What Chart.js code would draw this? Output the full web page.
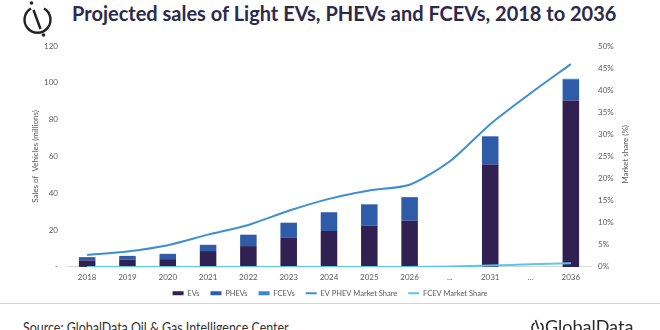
<!DOCTYPE html>
<html>
<head>
<meta charset="utf-8">
<script src="https://cdn.jsdelivr.net/npm/chart.js@4.4.1/dist/chart.umd.min.js"></script>
<style>
  html, body { margin: 0; padding: 0; background: #fff; }
  #wrap { position: relative; width: 660px; height: 330px; overflow: hidden; font-family: Lato, sans-serif; }
  #chartBox { position: absolute; left: 0; top: 0; width: 660px; height: 317px; }
  #title { position: absolute; left: 72px; top: 1px; font-weight: bold; font-size: 20px; line-height: 24px; color: #2c2a4c; white-space: nowrap; }
  #logo { position: absolute; left: 22px; top: 0px; }
  #rule { position: absolute; left: 0; top: 303px; width: 660px; height: 0; border-top: 1.5px solid #d4d4d4; }
  #source { position: absolute; left: 23px; top: 317px; font-size: 15px; line-height: 20px; color: #333; white-space: nowrap; transform: scaleX(0.83); transform-origin: 0 0; }
  #brand { position: absolute; left: 531px; top: 315px; font-size: 18px; line-height: 22px; color: #2a2a2a; white-space: nowrap; }
  #brand svg { vertical-align: -2px; margin-right: 1px; }
</style>
</head>
<body>
<div id="wrap">
  <svg id="logo" width="32" height="40" viewBox="0 0 32 40">
    <path d="M9 8.5 A13 13 0 1 0 22 8.5" fill="none" stroke="#222" stroke-width="2.4"/>
    <path d="M11.5 10 L18.5 29" stroke="#222" stroke-width="2.4"/>
    <circle cx="9.5" cy="3" r="1.8" fill="#222"/>
    <circle cx="21.5" cy="35" r="1.8" fill="#222"/>
  </svg>
  <div id="title">Projected sales of Light EVs, PHEVs and FCEVs, 2018 to 2036</div>
  <div id="chartBox"><canvas id="salesChart"></canvas></div>
  <div id="rule"></div>
  <div id="source">Source: GlobalData Oil &amp; Gas Intelligence Center</div>
  <div id="brand"><svg width="13" height="16" viewBox="0 0 13 16"><path d="M3.5 4 A5.5 5.5 0 1 0 9.5 4" fill="none" stroke="#2a2a2a" stroke-width="1.6"/><path d="M4.5 1 L7.5 10" stroke="#2a2a2a" stroke-width="1.6"/></svg>GlobalData</div>
</div>
<script>
// categories and series (sales in millions, shares in %)
const years = ['2018', '2019', '2020', '2021', '2022', '2023', '2024', '2025', '2026', '...', '2031', '...', '2036'];
const evSales = [3.5, 4.0, 4.2, 8.6, 11.3, 16.0, 19.5, 22.4, 25.1, null, 55.6, null, 90.4];
const phevSales = [1.8, 2.0, 2.9, 3.4, 6.2, 8.0, 10.2, 11.6, 12.8, null, 15.3, null, 11.5];
const fcevSales = [0, 0, 0, 0, 0, 0, 0, 0, 0, null, 0.1, null, 0.3];
const evPhevShare = [2.7, 3.5, 4.9, 7.3, 9.5, 12.7, 15.4, 17.3, 18.6, 23.9, 32.3, 39.3, 45.9];
const fcevShare = [0, 0, 0, 0, 0, 0, 0, 0, 0, 0.1, 0.3, 0.6, 0.8];

const tickGrey = '#595959';
const fontFamily = 'Lato, sans-serif';

// rotated title on the right axis (reads bottom to top like the left one)
const rightAxisTitle = {
    id: 'rightAxisTitle',
    afterDraw(chart) {
        const { ctx, chartArea } = chart;
        const axis = chart.scales.y1;
        ctx.save();
        ctx.translate(axis.right - 35, (chartArea.top + chartArea.bottom) / 2 - 2);
        ctx.rotate(-Math.PI / 2);
        ctx.font = '8px ' + fontFamily;
        ctx.fillStyle = tickGrey;
        ctx.textAlign = 'center';
        ctx.textBaseline = 'middle';
        ctx.fillText('Market share (%)', 0, 0);
        ctx.restore();
    }
};

// keep the wide item spacing but pull the legend row up under the year labels
const legendNudge = {
    id: 'legendNudge',
    afterLayout(chart) {
        chart.legend.top -= 10;
        chart.legend.bottom -= 10;
    }
};

const barStyle = { barPercentage: 0.41, categoryPercentage: 1, borderWidth: 0, yAxisID: 'y', order: 1 };

new Chart(document.getElementById('salesChart'), {
    type: 'bar',
    data: {
        labels: years,
        datasets: [
            { label: 'EVs', data: evSales, backgroundColor: '#312052', ...barStyle },
            { label: 'PHEVs', data: phevSales, backgroundColor: '#2f5ca8', ...barStyle },
            { label: 'FCEVs', data: fcevSales, backgroundColor: '#3a86d6', ...barStyle },
            {
                type: 'line', label: 'EV PHEV Market Share', data: evPhevShare, yAxisID: 'y1',
                borderColor: '#3d8fd3', backgroundColor: '#3d8fd3', borderWidth: 2,
                pointRadius: 0, tension: 0.25, order: 0
            },
            {
                type: 'line', label: 'FCEV Market Share', data: fcevShare, yAxisID: 'y1',
                borderColor: '#5cc6ea', backgroundColor: '#5cc6ea', borderWidth: 2,
                pointRadius: 0, tension: 0.25, order: 0
            }
        ]
    },
    options: {
        responsive: true,
        maintainAspectRatio: false,
        animation: false,
        layout: { padding: { top: 46, left: 0, right: 0, bottom: 0 } },
        plugins: {
            tooltip: { enabled: false },
            legend: {
                position: 'bottom',
                labels: {
                    usePointStyle: true,
                    pointStyleWidth: 11,
                    boxHeight: 4,
                    padding: 11,
                    color: tickGrey,
                    font: { size: 7.5, family: fontFamily },
                    sort: (a, b) => a.datasetIndex - b.datasetIndex,
                    generateLabels: chart => chart.data.datasets.map((ds, i) => {
                        const isLine = ds.type === 'line';
                        return {
                            text: ds.label,
                            datasetIndex: i,
                            fillStyle: isLine ? ds.borderColor : ds.backgroundColor,
                            strokeStyle: isLine ? ds.borderColor : ds.backgroundColor,
                            lineWidth: isLine ? 2 : 0,
                            pointStyle: isLine ? 'line' : 'rect',
                            fontColor: tickGrey,
                            hidden: false
                        };
                    })
                }
            }
        },
        scales: {
            x: {
                stacked: true,
                grid: { display: false, drawTicks: false },
                border: { display: true, color: '#d9d9d9', width: 1 },
                ticks: { color: tickGrey, font: { size: 8, family: fontFamily }, padding: 6, maxRotation: 0, autoSkip: false }
            },
            y: {
                position: 'left',
                stacked: true,
                min: 0,
                max: 120,
                grid: { display: false, drawTicks: false },
                border: { display: false },
                ticks: {
                    stepSize: 20,
                    padding: 9,
                    color: tickGrey,
                    font: { size: 8, family: fontFamily },
                    callback: v => (v === 0 ? '-' : v)
                },
                title: {
                    display: true,
                    text: 'Sales of  Vehicles (millions)',
                    color: tickGrey,
                    font: { size: 8, family: fontFamily },
                    padding: { top: 31, bottom: 0 }
                },
                afterFit: scale => { scale.width = 67; }
            },
            y1: {
                position: 'right',
                min: 0,
                max: 50,
                grid: { display: false, drawTicks: false },
                border: { display: false },
                ticks: {
                    stepSize: 5,
                    padding: 7,
                    color: tickGrey,
                    font: { size: 8, family: fontFamily },
                    callback: v => v + '%'
                },
                afterFit: scale => { scale.width = 69; }
            }
        }
    },
    plugins: [rightAxisTitle, legendNudge]
});
</script>
</body>
</html>
